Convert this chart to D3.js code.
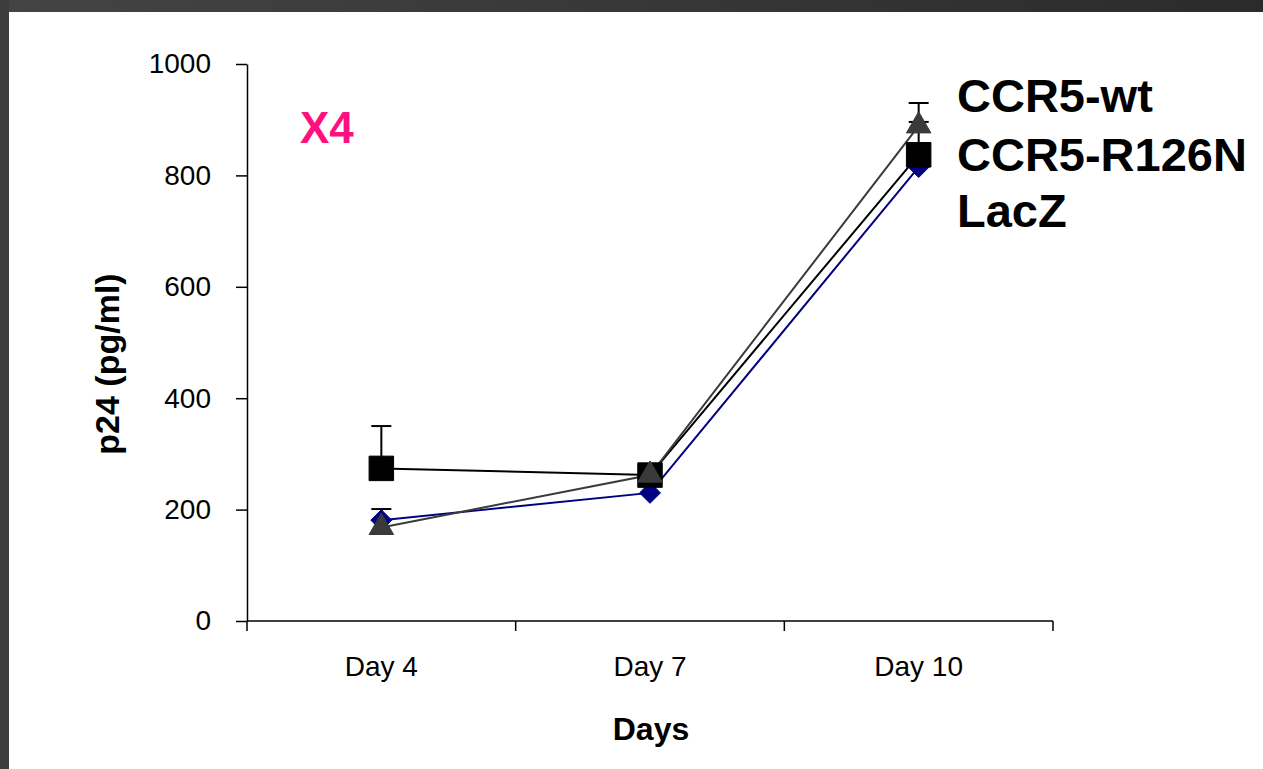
<!DOCTYPE html>
<html>
<head>
<meta charset="utf-8">
<script src="https://cdn.jsdelivr.net/npm/d3@7"></script>
<style>
  html, body { margin: 0; padding: 0; background: #ffffff; }
  svg { display: block; }
  text { font-family: "Liberation Sans", Arial, sans-serif; }
</style>
</head>
<body>
<svg id="chart" width="1263" height="769"></svg>
<script>
// Time points (x categories)
const days = ["Day 4", "Day 7", "Day 10"];
// y axis ticks
const yTicks = [0, 200, 400, 600, 800, 1000];

// p24 readings (pg/ml) per construct
const ccr5Wt     = [181, 230, 815];
const ccr5R126N  = [274, 262, 837];
const lacZ       = [168, 262, 889];

// upper error bar sizes (0 = none drawn)
const ccr5WtErr    = [20, 0, 0];
const ccr5R126NErr = [76, 0, 59];
const lacZErr      = [0, 0, 41];

const seriesNames = ["CCR5-wt", "CCR5-R126N", "LacZ"];

const svg = d3.select("#chart");
const W = 1263, H = 769;

// slide frame: dark band across the top and down the left
const defs = svg.append("defs");
const grad = defs.append("linearGradient").attr("id", "topBand")
  .attr("x1", "0").attr("x2", "1").attr("y1", "0").attr("y2", "0");
grad.append("stop").attr("offset", "0").attr("stop-color", "#444444");
grad.append("stop").attr("offset", "1").attr("stop-color", "#2b2b2b");
svg.append("rect").attr("x", 0).attr("y", 0).attr("width", W).attr("height", 12).attr("fill", "url(#topBand)");
svg.append("rect").attr("x", 0).attr("y", 0).attr("width", 9).attr("height", H).attr("fill", "#3d3d3d");

// scales
const x = d3.scaleBand().domain(days).range([247, 1053]).padding(0);
const y = d3.scaleLinear().domain([0, 1000]).range([621, 64]);
const cx = d => x(d) + x.bandwidth() / 2;

// y axis
const yAxis = svg.append("g").attr("transform", "translate(247,0)")
  .call(d3.axisLeft(y).tickValues(yTicks).tickFormat(d3.format("d"))
    .tickSize(11).tickPadding(25).tickSizeOuter(0));
yAxis.select(".domain").attr("stroke", "#000").attr("stroke-width", 1.5);
yAxis.selectAll(".tick line").attr("stroke", "#000").attr("stroke-width", 1.5);
yAxis.selectAll(".tick text").attr("font-size", 28).attr("fill", "#000")
  .attr("font-family", "Liberation Sans, Arial, sans-serif");

// x axis: ticks sit on the category boundaries
const xAxisG = svg.append("g").attr("transform", `translate(0,${y(0)})`);
xAxisG.append("line").attr("x1", 247).attr("x2", 1053).attr("y1", 0).attr("y2", 0)
  .attr("stroke", "#000").attr("stroke-width", 1.5);
const bounds = days.map(d => x(d)).concat([x(days[days.length - 1]) + x.bandwidth()]);
xAxisG.selectAll("line.tk").data(bounds).join("line").attr("class", "tk")
  .attr("x1", d => d).attr("x2", d => d).attr("y1", 0).attr("y2", 10)
  .attr("stroke", "#000").attr("stroke-width", 1.5);
xAxisG.selectAll("text.lbl").data(days).join("text").attr("class", "lbl")
  .attr("x", d => cx(d)).attr("y", 55).attr("text-anchor", "middle")
  .attr("font-size", 28).attr("fill", "#000").text(d => d);

// axis titles
svg.append("text").attr("x", 651).attr("y", 740).attr("text-anchor", "middle")
  .attr("font-size", 32).attr("font-weight", "bold").text("Days");
svg.append("text").attr("transform", "translate(119,364) rotate(-90)")
  .attr("text-anchor", "middle").attr("font-size", 34).attr("font-weight", "bold")
  .text("p24 (pg/ml)");

// virus label
svg.append("text").attr("x", 300).attr("y", 143).attr("font-size", 44)
  .attr("font-weight", "bold").attr("fill", "#ff1080").text("X4");

// series
const series = [
  { name: seriesNames[0], vals: ccr5Wt, err: ccr5WtErr, color: "#000080", line: "#000080", shape: "diamond" },
  { name: seriesNames[1], vals: ccr5R126N, err: ccr5R126NErr, color: "#000000", line: "#000000", shape: "square" },
  { name: seriesNames[2], vals: lacZ, err: lacZErr, color: "#3a3a3a", line: "#3a3a3a", shape: "triangle" }
];

const lineGen = d3.line().x((v, i) => cx(days[i])).y(v => y(v));

// lines first, then error bars and markers on top
series.forEach(s => {
  svg.append("path").datum(s.vals).attr("d", lineGen)
    .attr("fill", "none").attr("stroke", s.line).attr("stroke-width", 2);
});

series.forEach(s => {
  const g = svg.append("g");
  s.vals.forEach((v, i) => {
    if (s.err[i] > 0) {
      const px = cx(days[i]);
      g.append("line").attr("x1", px).attr("x2", px).attr("y1", y(v)).attr("y2", y(v + s.err[i]))
        .attr("stroke", "#000").attr("stroke-width", 2);
      g.append("line").attr("x1", px - 10).attr("x2", px + 10)
        .attr("y1", y(v + s.err[i])).attr("y2", y(v + s.err[i]))
        .attr("stroke", "#000").attr("stroke-width", 2);
    }
  });
});

const sym = {
  diamond: d3.symbol().type(d3.symbolDiamond2).size(280),
  square: d3.symbol().type(d3.symbolSquare).size(600),
  triangle: d3.symbol().type(d3.symbolTriangle).size(260)
};

series.forEach(s => {
  svg.append("g").selectAll("path").data(s.vals).join("path")
    .attr("transform", (v, i) => `translate(${cx(days[i])},${y(v)})`)
    .attr("d", sym[s.shape]())
    .attr("fill", s.color).attr("stroke", s.shape === "square" ? "#000" : s.color)
    .attr("stroke-width", 1);
});

// legend text
const legendY = [112, 171, 227];
svg.selectAll("text.leg").data(seriesNames).join("text").attr("class", "leg")
  .attr("x", 957).attr("y", (d, i) => legendY[i])
  .attr("font-size", 47).attr("font-weight", "bold").attr("fill", "#000").text(d => d);
</script>
</body>
</html>
